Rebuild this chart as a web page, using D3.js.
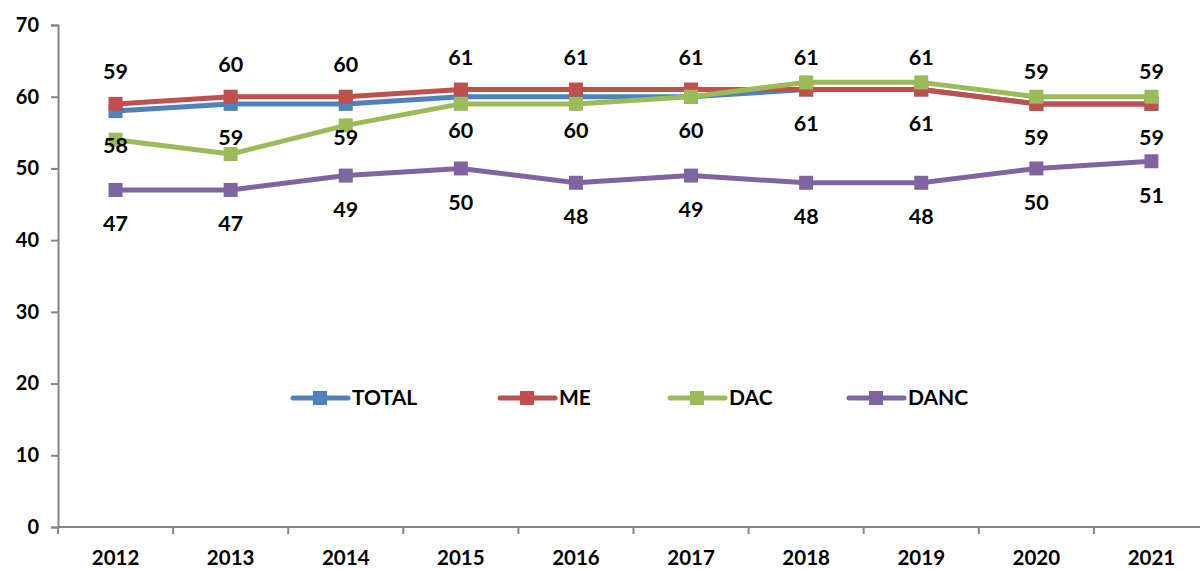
<!DOCTYPE html>
<html>
<head>
<meta charset="utf-8">
<script src="https://cdn.jsdelivr.net/npm/d3@7"></script>
<style>
  body { margin: 0; background: #fff; }
  svg text { font-family: Lato, "Open Sans", sans-serif; font-weight: bold; fill: #000; }
</style>
</head>
<body>
<div id="chart"></div>
<script>
const years = ["2012", "2013", "2014", "2015", "2016", "2017", "2018", "2019", "2020", "2021"];
const total = [58, 59, 59, 60, 60, 60, 61, 61, 59, 59];
const me = [59, 60, 60, 61, 61, 61, 61, 61, 59, 59];
const dac = [54, 52, 56, 59, 59, 60, 62, 62, 60, 60];
const danc = [47, 47, 49, 50, 48, 49, 48, 48, 50, 51];
const yTicks = [0, 10, 20, 30, 40, 50, 60, 70];

const w = 1200;
const h = 569;

const series = [
  { name: "TOTAL", values: total, color: "#4F81BD", label: 34 },
  { name: "ME", values: me, color: "#C0504D", label: -32 },
  { name: "DAC", values: dac, color: "#9BBB59", label: null },
  { name: "DANC", values: danc, color: "#8064A2", label: 34 }
];

const svg = d3.select("#chart").append("svg")
  .attr("width", w)
  .attr("height", h);

const x = d3.scaleBand()
  .domain(years)
  .range([58, 1209]);

const y = d3.scaleLinear()
  .domain([0, 70])
  .range([527, 25]);

// y axis
const yAxis = svg.append("g")
  .attr("transform", "translate(58,0)")
  .call(d3.axisLeft(y).tickValues(yTicks).tickSize(7).tickPadding(10));
yAxis.select(".domain").attr("stroke", "#868686").attr("stroke-width", 2);
yAxis.selectAll(".tick line").attr("stroke", "#868686").attr("stroke-width", 2);
yAxis.selectAll("text").style("font-size", "20px").attr("dx", "-2");

// x axis, ticks on band edges
const xg = svg.append("g").attr("transform", "translate(0,527)");
xg.append("line")
  .attr("x1", 58).attr("x2", 1209)
  .attr("stroke", "#868686").attr("stroke-width", 2);
xg.selectAll("line.edge")
  .data(years)
  .enter().append("line")
  .attr("class", "edge")
  .attr("x1", d => x(d)).attr("x2", d => x(d))
  .attr("y1", 0).attr("y2", 7)
  .attr("stroke", "#868686").attr("stroke-width", 2);
xg.selectAll("text")
  .data(years)
  .enter().append("text")
  .attr("x", d => x(d) + x.bandwidth() / 2)
  .attr("y", 38)
  .attr("text-anchor", "middle")
  .style("font-size", "20.5px")
  .text(d => d);

const line = d3.line()
  .x((d, i) => x(years[i]) + x.bandwidth() / 2)
  .y(d => y(d));

series.forEach(s => {
  svg.append("path")
    .datum(s.values)
    .attr("fill", "none")
    .attr("stroke", s.color)
    .attr("stroke-width", 5)
    .attr("stroke-linejoin", "round")
    .attr("d", line);
  svg.selectAll(null)
    .data(s.values)
    .enter().append("rect")
    .attr("x", (d, i) => x(years[i]) + x.bandwidth() / 2 - 7)
    .attr("y", d => y(d) - 7)
    .attr("width", 14)
    .attr("height", 14)
    .attr("fill", s.color);
});

series.filter(s => s.label !== null).forEach(s => {
  svg.selectAll(null)
    .data(s.values)
    .enter().append("text")
    .attr("x", (d, i) => x(years[i]) + x.bandwidth() / 2)
    .attr("y", d => y(d) + s.label)
    .attr("dy", "0.35em")
    .attr("text-anchor", "middle")
    .style("font-size", "21.5px")
    .text(d => d);
});

// legend
const legendX = [293, 500, 670, 849];
const legend = svg.selectAll("g.legend")
  .data(series)
  .enter().append("g")
  .attr("class", "legend")
  .attr("transform", (d, i) => `translate(${legendX[i]},398)`);
legend.append("line")
  .attr("x1", 0).attr("x2", 55)
  .attr("stroke", d => d.color)
  .attr("stroke-width", 5)
  .attr("stroke-linecap", "round");
legend.append("rect")
  .attr("x", 20).attr("y", -7)
  .attr("width", 14).attr("height", 14)
  .attr("fill", d => d.color);
legend.append("text")
  .attr("x", 59)
  .attr("dy", "0.35em")
  .style("font-size", "21px")
  .text(d => d.name);
</script>
</body>
</html>
